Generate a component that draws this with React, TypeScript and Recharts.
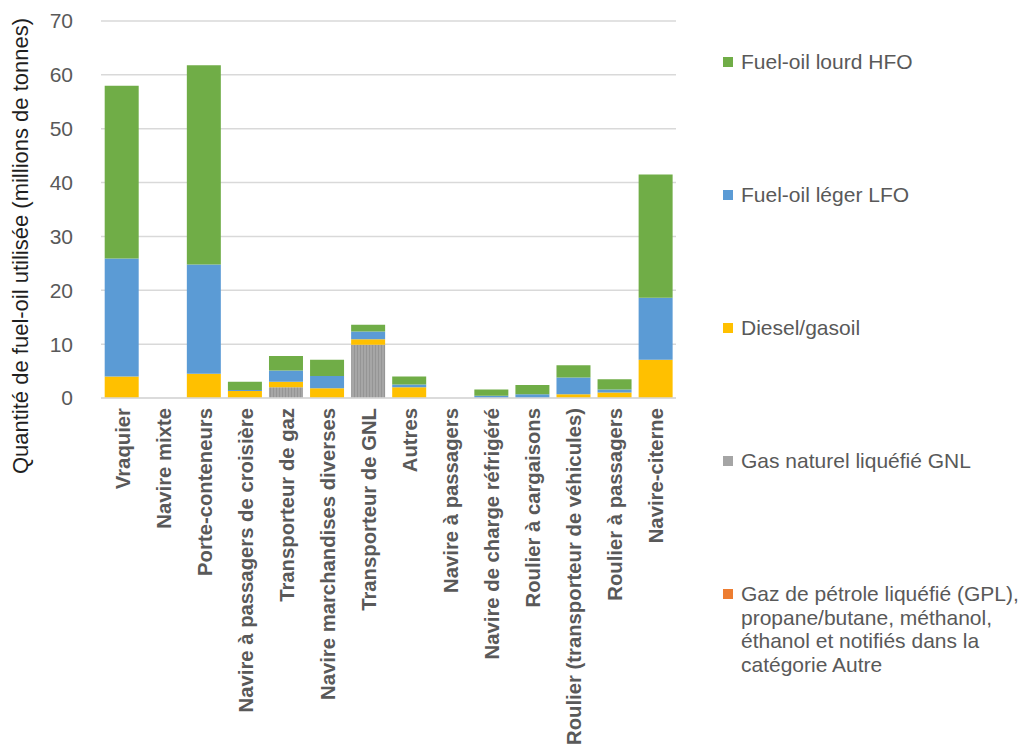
import { BarChart, Bar, XAxis, YAxis, CartesianGrid, Legend } from 'recharts';

const categories = [
  'Vraquier',
  'Navire mixte',
  'Porte-conteneurs',
  'Navire à passagers de croisière',
  'Transporteur de gaz',
  'Navire marchandises diverses',
  'Transporteur de GNL',
  'Autres',
  'Navire à passagers',
  'Navire de charge réfrigéré',
  'Roulier à cargaisons',
  'Roulier (transporteur de véhicules)',
  'Roulier à passagers',
  'Navire-citerne',
];

// millions de tonnes
const gpl = [0, 0, 0, 0, 0, 0, 0, 0, 0, 0, 0, 0, 0, 0];
const gnl = [0, 0, 0, 0, 2.0, 0, 9.9, 0, 0, 0, 0, 0, 0, 0];
const diesel = [4.0, 0, 4.5, 1.3, 1.0, 1.8, 1.0, 2.0, 0, 0, 0, 0.7, 1.0, 7.1];
const lfo = [21.9, 0, 20.3, 0.2, 2.1, 2.3, 1.45, 0.5, 0, 0.4, 0.7, 3.1, 0.6, 11.5];
const hfo = [32.1, 0, 37.0, 1.5, 2.7, 3.0, 1.25, 1.5, 0, 1.2, 1.7, 2.3, 1.9, 22.9];

const yTicks = [0, 10, 20, 30, 40, 50, 60, 70];

const legendItems = [
  { label: ['Fuel-oil lourd HFO'], color: '#70ad47' },
  { label: ['Fuel-oil léger LFO'], color: '#5b9bd5' },
  { label: ['Diesel/gasoil'], color: '#ffc000' },
  { label: ['Gas naturel liquéfié GNL'], color: '#a5a5a5' },
  {
    label: [
      'Gaz de pétrole liquéfié (GPL),',
      'propane/butane, méthanol,',
      'éthanol et notifiés dans la',
      'catégorie Autre',
    ],
    color: '#ed7d31',
  },
];

const data = categories.map((name, i) => ({
  name,
  gpl: gpl[i],
  gnl: gnl[i],
  diesel: diesel[i],
  lfo: lfo[i],
  hfo: hfo[i],
}));

const font = 'Arial, "Liberation Sans", sans-serif';

function XTick(props: any) {
  const { x, y, payload } = props;
  return (
    <text
      x={x + 1}
      y={y}
      transform={`rotate(-90, ${x + 1}, ${y})`}
      textAnchor="end"
      dominantBaseline="central"
      fontFamily={font}
      fontSize={20.3}
      fontWeight="bold"
      fill="#595959"
    >
      {payload.value}
    </text>
  );
}

function LegendBox() {
  return (
    <div style={{ fontFamily: font, fontSize: 21, color: '#595959', lineHeight: '23.5px' }}>
      {legendItems.map((it, i) => (
        <div key={i} style={{ position: 'absolute', left: 0, top: i * 133, display: 'flex' }}>
          <span
            style={{
              width: 10,
              height: 10,
              background: it.color,
              marginTop: 7,
              marginRight: 8,
              flex: 'none',
            }}
          />
          <div style={{ whiteSpace: 'nowrap' }}>
            {it.label.map((l, j) => (
              <div key={j}>{l}</div>
            ))}
          </div>
        </div>
      ))}
    </div>
  );
}

export default function App() {
  return (
    <div style={{ position: 'absolute', left: 0, top: 0, width: 1023, height: 751, background: '#fff' }}>
      <BarChart
        width={1023}
        height={751}
        data={data}
        margin={{ top: 21, right: 347, bottom: 0, left: 0 }}
        barCategoryGap="9%"
      >
        <defs>
          <pattern id="gnlStripes" width="3" height="4" patternUnits="userSpaceOnUse">
            <rect width="3" height="4" fill="#a6a6a6" />
            <rect width="1" height="4" fill="#959595" />
          </pattern>
        </defs>
        <CartesianGrid vertical={false} stroke="#d9d9d9" strokeWidth={1.5} />
        <XAxis
          dataKey="name"
          interval={0}
          height={353}
          tickLine={false}
          axisLine={{ stroke: '#d9d9d9', strokeWidth: 1.5 }}
          tickSize={0}
          tickMargin={10}
          tick={<XTick />}
        />
        <YAxis
          width={101}
          domain={[0, 70]}
          ticks={yTicks}
          tickLine={false}
          axisLine={false}
          tickMargin={22}
          tick={{ fill: '#595959', fontSize: 21, fontFamily: font }}
          label={{
            content: () => (
              <text
                x={20}
                y={246}
                transform="rotate(-90, 20, 246)"
                textAnchor="middle"
                dominantBaseline="central"
                fontFamily={font}
                fontSize={22}
                fill="#1f1f1f"
              >
                Quantité de fuel-oil utilisée (millions de tonnes)
              </text>
            ),
          }}
        />
        <Legend
          content={<LegendBox />}
          wrapperStyle={{ position: 'absolute', left: 723, top: 50, width: 300 }}
        />
        <Bar dataKey="gpl" stackId="a" fill="#ed7d31" isAnimationActive={false} />
        <Bar dataKey="gnl" stackId="a" fill="url(#gnlStripes)" isAnimationActive={false} />
        <Bar dataKey="diesel" stackId="a" fill="#ffc000" isAnimationActive={false} />
        <Bar dataKey="lfo" stackId="a" fill="#5b9bd5" isAnimationActive={false} />
        <Bar dataKey="hfo" stackId="a" fill="#70ad47" isAnimationActive={false} />
      </BarChart>
    </div>
  );
}
